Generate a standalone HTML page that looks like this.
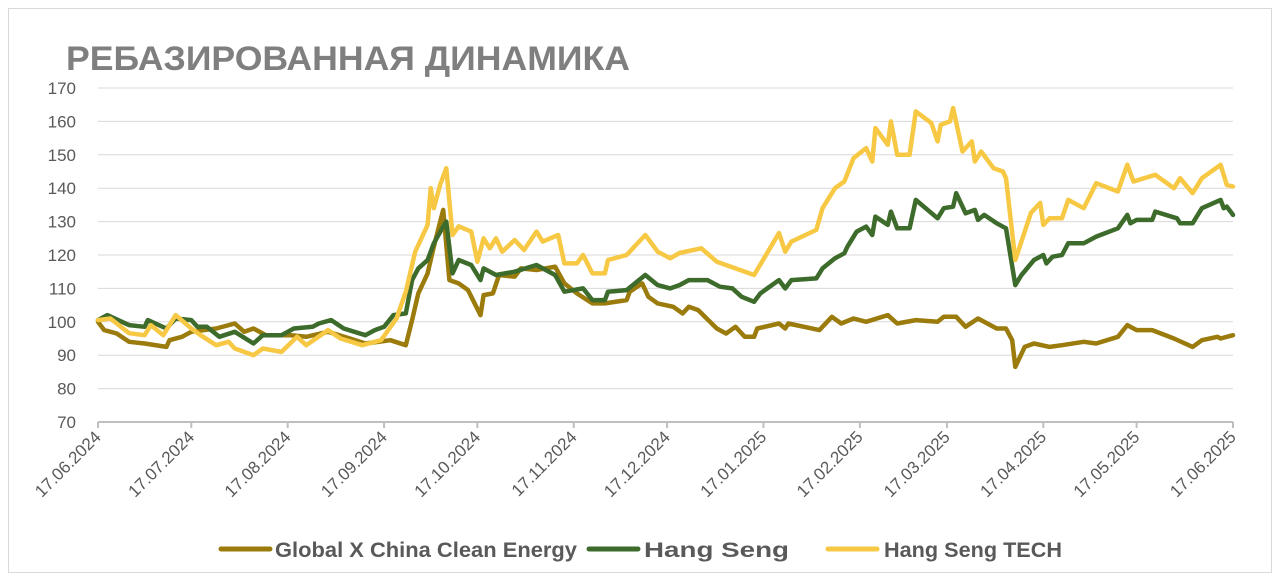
<!DOCTYPE html>
<html><head><meta charset="utf-8"><style>
html,body{margin:0;padding:0;background:#fff;}
svg{display:block;font-family:"Liberation Sans",sans-serif;}
</style></head><body>
<svg id="chart" width="1280" height="582" viewBox="0 0 1280 582" xmlns="http://www.w3.org/2000/svg">
<rect x="8.5" y="8.5" width="1263" height="564" fill="#fff" stroke="#d9d9d9"/>
<text x="66" y="70" font-size="34" font-weight="bold" fill="#7f7f7f" textLength="564" lengthAdjust="spacingAndGlyphs">РЕБАЗИРОВАННАЯ ДИНАМИКА</text>
<g id="grid"></g><g id="yax"></g><g id="xax"></g><g id="series"></g>
<g>
<g><line x1="221" y1="549" x2="270" y2="549" stroke="#9a7b0c" stroke-width="5" stroke-linecap="round"/><text x="275" y="557" font-size="21" font-weight="bold" fill="#595959" textLength="302" lengthAdjust="spacingAndGlyphs">Global X China Clean Energy</text></g>
<g><line x1="589" y1="549" x2="638" y2="549" stroke="#3d6b2b" stroke-width="5" stroke-linecap="round"/><text x="644" y="557" font-size="21" font-weight="bold" fill="#595959" textLength="145" lengthAdjust="spacingAndGlyphs">Hang Seng</text></g>
<g><line x1="828" y1="549" x2="877" y2="549" stroke="#f7c843" stroke-width="5" stroke-linecap="round"/><text x="884" y="557" font-size="21" font-weight="bold" fill="#595959" textLength="178" lengthAdjust="spacingAndGlyphs">Hang Seng TECH</text></g>
</g>
</svg>
<script>
const yTicks=[70,80,90,100,110,120,130,140,150,160,170];
const xTickLabels=["17.06.2024","17.07.2024","17.08.2024","17.09.2024","17.10.2024","17.11.2024","17.12.2024","17.01.2025","17.02.2025","17.03.2025","17.04.2025","17.05.2025","17.06.2025"];
const xTickDays=[0,30,61,92,122,153,183,214,245,273,304,334,365];
const cleanDays=[0,2,6,10,15,22,23,27,30,38,44,47,50,54,62,67,74,81,86,94,99,101,103,106,108,111,113,116,119,123,124,127,129,134,136,141,147,150,154,159,163,170,171,175,177,180,185,188,190,193,199,202,205,208,211,212,219,221,222,232,236,239,243,247,254,257,263,270,272,276,279,283,289,292,294,295,298,301,306,310,317,321,328,331,334,339,346,352,355,360,361,365];
const cleanVals=[100,97.5,96.5,94,93.5,92.5,94.5,95.5,97,98,99.5,97,98,96,96,95.5,97,95,93.5,94.5,93,100.5,108.5,114.5,122.5,133.5,112.5,111.5,109.5,102,108,108.5,114,113.5,116,115.5,116.5,111.5,108.5,105.5,105.5,106.5,109,111.5,107.5,105.5,104.5,102.5,104.5,103.5,98,96.5,98.5,95.5,95.5,98,99.5,98,99.5,97.5,101.5,99.5,101,100,102,99.5,100.5,100,101.5,101.5,98.5,101,98,98,94.5,86.5,92.5,93.5,92.5,93,94,93.5,95.5,99,97.5,97.5,95,92.5,94.5,95.5,95,96];
const hsDays=[0,3,10,15,16,22,25,30,32,35,39,44,50,53,59,63,69,71,75,79,86,89,92,95,99,101,103,106,108,111,112,114,116,120,123,124,128,134,141,144,147,150,156,159,163,164,170,176,180,184,187,190,196,200,204,207,211,213,219,221,223,231,233,237,240,241,244,247,249,250,254,255,257,261,263,270,272,275,276,279,282,283,285,289,292,295,297,301,304,305,307,310,312,317,321,328,331,332,334,339,340,347,348,352,355,361,362,363,365];
const hsVals=[100.5,102,99,98.5,100.5,98,101,100.5,98.5,98.5,95.5,97,93.5,96,96,98,98.5,99.5,100.5,98,96,97.5,98.5,102,102.5,112.5,116,118.5,123.5,128.5,130,114.5,118.5,117,112.5,116,114,115,117,115.5,114,109,110,106.5,106.5,109,109.5,114,111,110,111,112.5,112.5,110.5,110,107.5,106,108.5,112.5,110,112.5,113,116,119,120.5,122.5,127,128.5,126,131.5,129,133,128,128,136.5,131,134,134.5,138.5,132.5,133.5,130.5,132,129.5,128,111,114,118.5,120,117.5,119.5,120,123.5,123.5,125.5,128,132,129.5,130.5,130.5,133,131,129.5,129.5,134,136.5,134,134.5,132];
const techDays=[0,4,10,15,17,21,25,30,33,38,42,44,47,50,53,59,64,67,74,78,85,91,96,99,102,106,107,108,110,112,114,116,120,122,124,126,128,130,134,137,141,143,148,150,154,156,159,163,164,170,176,180,184,187,194,199,211,219,221,223,231,233,237,240,243,247,249,250,254,255,257,261,263,268,270,271,274,275,278,281,282,284,288,291,292,295,300,303,304,306,310,312,317,321,328,331,333,340,346,348,352,355,361,363,365];
const techVals=[100.5,101,96.6,96,99,96,102,98,96,93,94,92,91,90,92,91,95.5,93,97.5,95,93,94.5,101,109,121,129,140,134,141,146,126,128.6,127,118,125,122,125,121,124.5,121.5,127,124,126,117.5,117.5,120,114.5,114.5,118.5,120,126,121,119,120.6,122,118,114,126.6,121,124,127.5,134,140,142,149,152,148,158,153,160,150,150,163,159.5,154,159,160,164,151,154,148,151,146,145,143,118.5,132.6,135.6,129,131,131,136.5,134,141.5,139,147,142,144,140,143,138.5,143,147,141,140.5];
const X0=98,X1=1233,Y0=422,Y1=88;
const xs=d=>X0+(X1-X0)*d/365;
const ys=v=>Y0-(Y0-Y1)*(v-70)/100;
const NS="http://www.w3.org/2000/svg";
const mk=(t,a,p)=>{const e=document.createElementNS(NS,t);for(const k in a)e.setAttribute(k,a[k]);p.appendChild(e);return e;};
const grid=document.getElementById('grid'),yax=document.getElementById('yax'),xax=document.getElementById('xax'),ser=document.getElementById('series');
yTicks.forEach(v=>{
 if(v>70){const g=mk('line',{x1:X0,x2:X1,y1:ys(v),y2:ys(v),stroke:'#d9d9d9','stroke-width':1},grid);
 
 }
 const t=mk('text',{x:76,y:ys(v)+6,'text-anchor':'end','font-size':17,fill:'#595959'},yax);
 t.textContent=v;
 
 
});
const ax=mk('line',{x1:X0,x2:X1,y1:Y0,y2:Y0,stroke:'#bfbfbf','stroke-width':2},xax);


xTickDays.forEach((d,i)=>{
 const x=xs(d);
 const tk=mk('line',{x1:x,x2:x,y1:Y0,y2:Y0+6,stroke:'#bfbfbf','stroke-width':2},xax);
 
 
 const t=mk('text',{x:x+4,y:Y0+16,'text-anchor':'end','font-size':17,fill:'#595959',transform:`rotate(-45 ${x+4} ${Y0+16})`},xax);
 t.textContent=xTickLabels[i];
 
 
});
function line(days,vals,color,name){
 const p=mk('polyline',{points:days.map((d,i)=>xs(d).toFixed(1)+','+ys(vals[i]).toFixed(1)).join(' '),fill:'none',stroke:color,'stroke-width':4.5,'stroke-linejoin':'round','stroke-linecap':'round'},ser);
 
 
}
line(cleanDays,cleanVals,'#9a7b0c','series-clean-energy');
line(hsDays,hsVals,'#3d6b2b','series-hang-seng');
line(techDays,techVals,'#f7c843','series-hang-seng-tech');
</script>
</body></html>
